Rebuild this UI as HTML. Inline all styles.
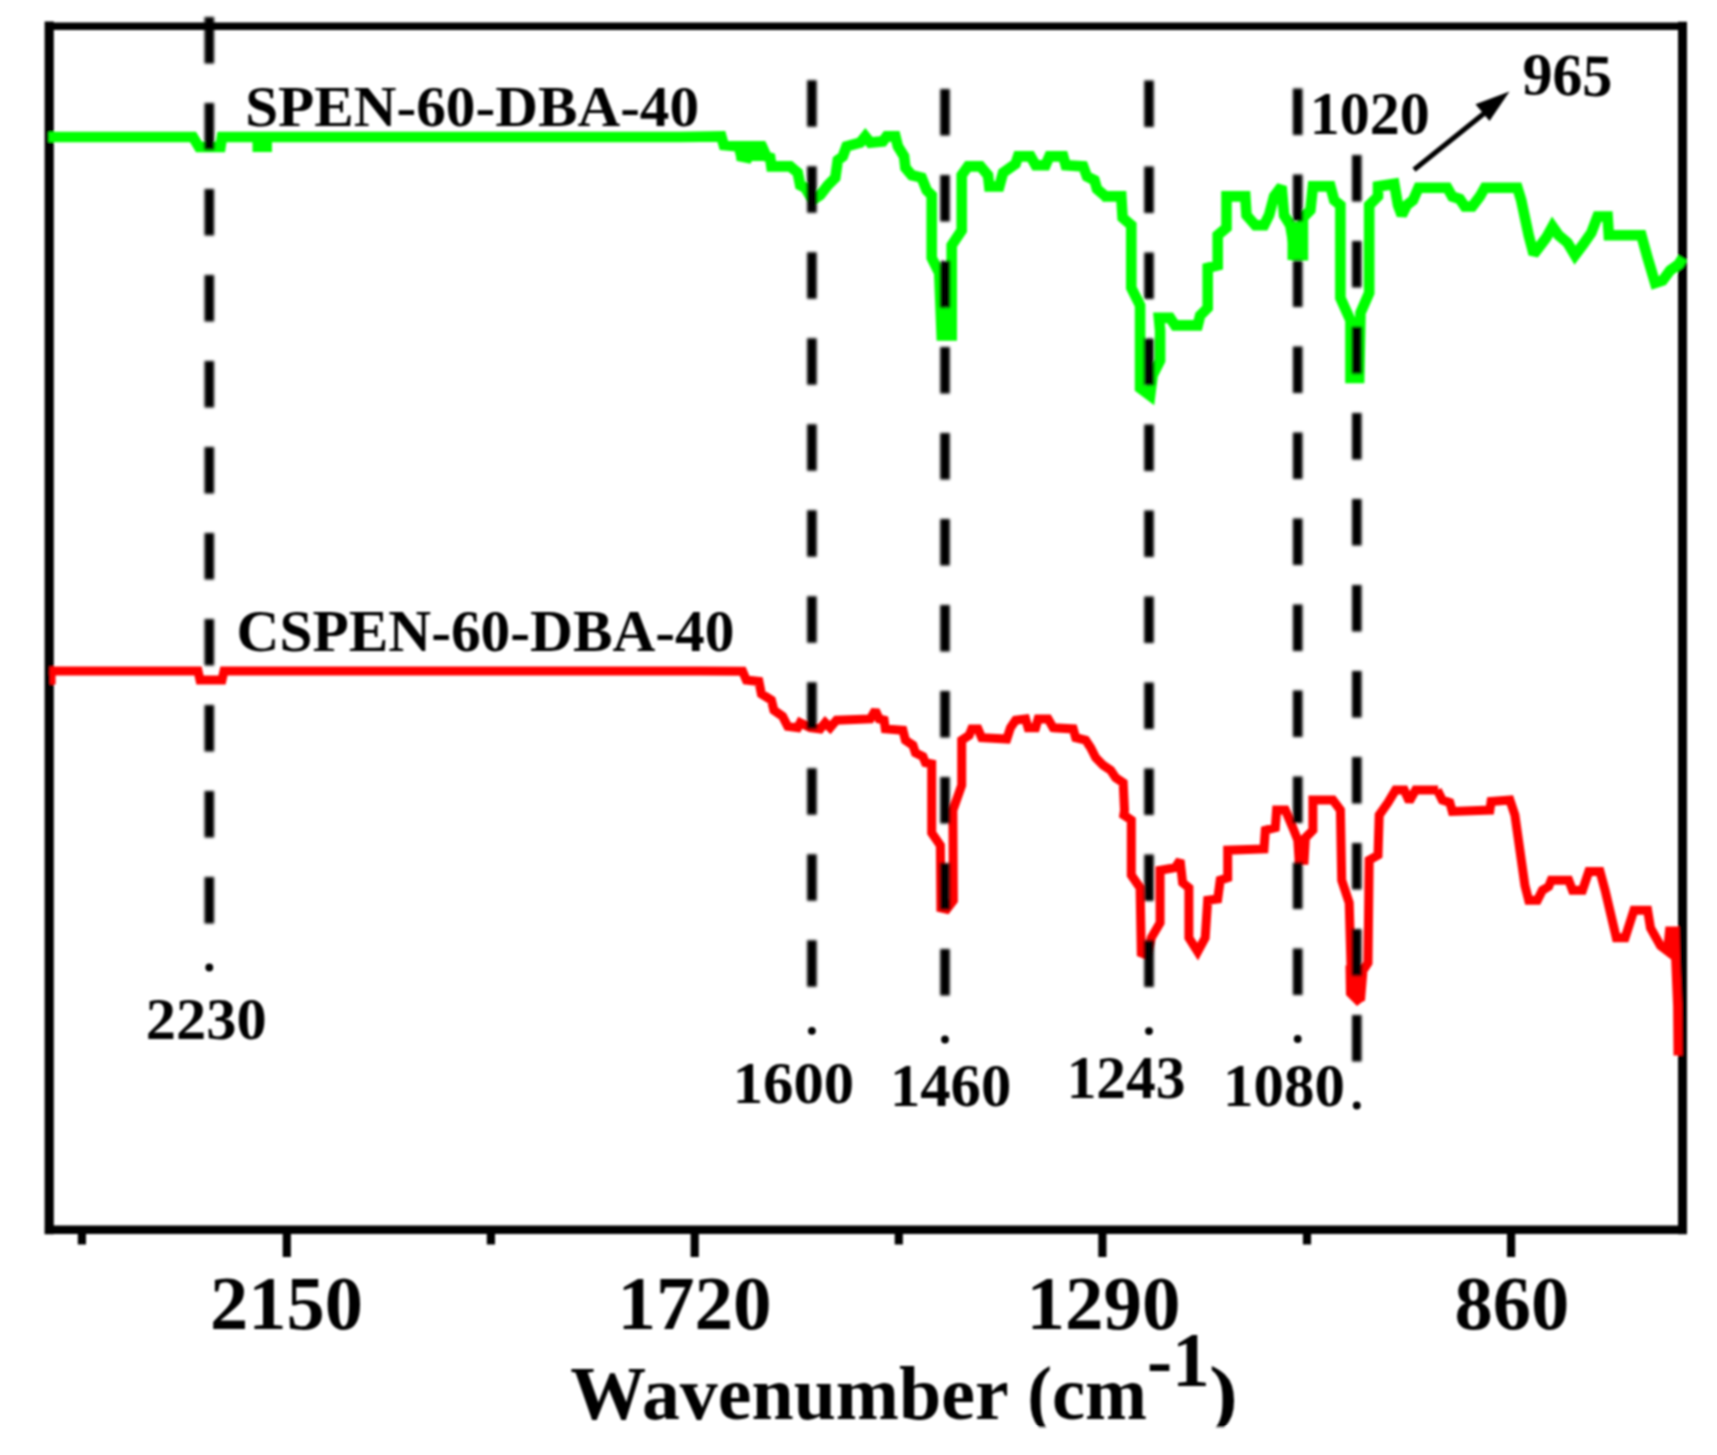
<!DOCTYPE html>
<html><head><meta charset="utf-8"><title>FTIR spectra</title>
<style>
html,body{margin:0;padding:0;background:#fff;}
body{width:1717px;height:1455px;overflow:hidden;}
svg{display:block;}
svg text{font-family:"Liberation Serif",serif;font-weight:bold;fill:#000;}
</style></head><body>
<svg width="1717" height="1455" viewBox="0 0 1717 1455">
<defs><filter id="soft" x="-2%" y="-2%" width="104%" height="104%"><feGaussianBlur stdDeviation="1.2"/></filter><filter id="soft2" x="-5%" y="-2%" width="110%" height="104%"><feGaussianBlur stdDeviation="0.9"/></filter></defs>
<rect width="1717" height="1455" fill="#fff"/>
<g filter="url(#soft)">
<g stroke="#000" stroke-linecap="square">
<line x1="49.2" y1="26.2" x2="49.2" y2="1229.7" stroke-width="9.2"/>
<line x1="1682.5" y1="26.2" x2="1682.5" y2="1229.7" stroke-width="9"/>
<line x1="49.2" y1="26.2" x2="1682.5" y2="26.2" stroke-width="7.6"/>
<line x1="49.2" y1="1229.7" x2="1682.5" y2="1229.7" stroke-width="8.5"/>
</g>
<path d="M48.5,137.0 L193.0,137.0 L199.0,147.0 L220.5,147.0 L222.0,137.0 L680.0,137.0 L721.3,136.4 L723.8,145.1 L738.9,146.4 L741.4,156.4 L747.6,157.7 L752.6,147.7 L762.6,147.7 L766.4,156.4 L770.2,157.7 L771.4,166.4 L790.2,166.4 L797.7,172.7 L800.2,185.2 L805.2,187.7 L812.7,200.2 L820.2,195.2 L827.8,185.2 L835.3,177.7 L837.8,160.2 L842.8,156.4 L846.5,146.4 L860.3,142.6 L865.3,136.4 L870.3,142.6 L882.9,141.4 L886.6,136.4 L895.4,136.4 L897.9,146.4 L904.1,156.4 L905.4,167.7 L911.7,175.2 L921.7,177.7 L926.7,190.2 L931.7,195.2 L931.7,257.8 L939.2,272.9 L941.7,335.5 L951.7,335.5 L951.7,245.3 L961.7,230.3 L961.7,175.2 L968.0,166.4 L980.5,166.4 L988.0,175.2 L989.3,186.5 L999.3,186.5 L1003.1,172.7 L1015.6,163.9 L1018.1,156.4 L1030.6,156.4 L1035.6,165.2 L1045.6,165.2 L1049.4,156.4 L1063.2,156.4 L1065.7,165.2 L1083.2,166.4 L1087.0,176.5 L1094.5,180.2 L1097.0,189.0 L1105.7,196.5 L1102.5,196.4 L1121.3,196.4 L1122.6,217.7 L1131.3,225.2 L1131.3,287.8 L1140.1,305.4 L1140.1,388.0 L1150.1,395.5 L1152.6,375.5 L1160.1,360.5 L1160.1,330.4 L1158.9,317.9 L1170.1,317.9 L1175.1,325.4 L1197.7,325.4 L1200.2,315.4 L1207.7,307.9 L1207.7,267.8 L1217.7,265.3 L1217.7,235.2 L1226.5,227.7 L1226.5,196.4 L1245.3,196.4 L1246.5,215.2 L1255.3,225.2 L1264.1,225.2 L1269.1,215.2 L1274.1,196.4 L1281.6,186.4 L1284.1,215.2 L1290.3,225.2 L1295.4,255.3 L1302.9,255.3 L1302.9,217.7 L1310.4,210.2 L1312.9,186.4 L1330.4,186.4 L1334.2,200.2 L1340.4,205.2 L1340.4,297.8 L1350.5,320.4 L1350.5,378.0 L1359.2,378.0 L1360.5,312.9 L1369.2,292.8 L1369.2,205.2 L1378.0,196.4 L1378.0,186.4 L1394.3,183.9 L1398.0,205.2 L1401.8,215.2 L1406.8,205.2 L1413.1,200.2 L1414.7,196.5 L1418.5,187.7 L1447.3,187.7 L1452.3,196.5 L1459.8,199.0 L1464.8,206.5 L1472.3,206.5 L1479.8,196.5 L1484.8,187.7 L1517.4,187.7 L1521.2,200.2 L1528.7,235.3 L1533.7,254.1 L1538.7,247.8 L1546.2,237.8 L1552.5,226.5 L1558.7,235.3 L1567.5,242.8 L1575.0,255.3 L1582.5,245.3 L1591.3,232.8 L1597.5,216.5 L1607.6,216.5 L1608.8,235.3 L1641.4,235.3 L1647.6,257.8 L1655.1,282.9 L1662.7,280.4 L1670.2,270.4 L1678.9,264.1 L1682.7,257.8" fill="none" stroke="#00ff00" stroke-width="10.6" stroke-linejoin="miter" stroke-miterlimit="2.2" stroke-linecap="butt"/>
<rect x="1287.5" y="222" width="20.5" height="38" fill="#00ff00"/>
<rect x="937" y="308" width="19.5" height="31" fill="#00ff00"/>
<rect x="736.5" y="141" width="29" height="20" fill="#00ff00"/>
<rect x="252.5" y="137" width="19.5" height="15" fill="#00ff00"/>
<path d="M49.5,671.0 L198.0,671.0 L200.0,680.0 L222.0,680.0 L224.0,671.0 L700.0,671.0 L742.6,671.3 L746.3,680.1 L758.9,681.4 L761.4,693.9 L771.4,700.1 L773.9,710.2 L782.6,716.4 L787.7,726.4 L797.7,727.7 L800.2,722.7 L810.2,727.7 L820.2,728.9 L825.2,722.7 L830.2,727.7 L836.5,720.2 L870.3,718.9 L875.3,710.2 L879.1,718.9 L884.1,720.2 L885.3,728.9 L902.9,730.2 L905.4,740.2 L912.9,745.2 L915.4,752.7 L922.9,756.5 L925.4,762.7 L931.7,764.0 L931.7,832.9 L940.4,845.4 L940.9,908.0 L946.7,909.3 L953.4,900.5 L952.9,810.3 L961.7,785.3 L961.7,740.2 L969.2,735.2 L971.7,728.9 L978.0,728.9 L981.7,737.7 L1006.8,739.0 L1010.5,727.7 L1015.6,720.2 L1025.6,718.9 L1028.1,727.7 L1035.6,727.7 L1038.1,718.9 L1048.1,718.9 L1053.1,727.7 L1073.2,728.9 L1075.7,737.7 L1085.7,740.2 L1090.7,747.7 L1095.7,757.7 L1103.2,765.3 L1110.7,770.3 L1115.7,777.8 L1123.2,782.8 L1124.5,810.3 L1123.8,815.1 L1131.3,820.1 L1131.3,875.2 L1140.1,887.8 L1141.3,952.9 L1147.6,955.4 L1151.3,937.8 L1160.1,922.8 L1160.1,870.2 L1175.1,867.7 L1180.1,860.2 L1182.6,882.7 L1188.9,887.8 L1188.9,937.8 L1197.7,951.6 L1205.2,937.8 L1207.7,900.3 L1217.7,899.0 L1220.2,880.2 L1227.7,877.7 L1227.7,850.2 L1264.0,848.9 L1265.3,830.2 L1275.3,827.7 L1276.6,810.1 L1285.3,810.1 L1292.8,827.7 L1297.8,840.2 L1299.1,860.2 L1304.1,860.2 L1305.4,837.7 L1312.9,830.2 L1312.9,800.1 L1332.9,800.1 L1340.4,810.1 L1341.7,880.2 L1349.2,902.8 L1351.7,990.4 L1360.5,1000.5 L1363.0,970.4 L1368.0,962.9 L1369.2,860.2 L1378.0,855.2 L1379.2,815.1 L1388.0,802.6 L1395.5,790.1 L1404.3,790.1 L1409.3,801.4 L1415.6,790.1 L1438.1,790.1 L1437.3,790.1 L1442.3,800.1 L1449.8,802.6 L1452.3,811.4 L1489.9,810.1 L1491.1,801.4 L1509.9,800.1 L1514.9,815.1 L1524.9,885.3 L1528.7,900.3 L1537.4,900.3 L1542.4,890.3 L1548.7,886.5 L1551.2,880.2 L1568.7,880.2 L1572.5,890.3 L1582.5,890.3 L1588.8,871.5 L1600.0,871.5 L1605.1,890.3 L1616.3,937.8 L1625.1,937.8 L1633.9,910.3 L1647.6,910.3 L1650.5,928.0 L1660.5,945.7 L1667.5,951.0 L1669.5,931.0 L1675.0,931.0 L1675.5,956.0 L1677.6,1006.0 L1678.0,1055.5" fill="none" stroke="#ff0000" stroke-width="9" stroke-linejoin="miter" stroke-miterlimit="2.2" stroke-linecap="butt"/>
<rect x="49.8" y="671" width="5.8" height="13.5" fill="#ff0000"/>
<polygon points="1345.5,965.4 1364.2,965.4 1364,1000.5 1357,1006 1346,995" fill="#ff0000"/>
<g filter="url(#soft2)" stroke="#000" stroke-width="9.6" stroke-dasharray="46.5 39.5" fill="none">
<line x1="209.3" y1="17" x2="209.3" y2="923.5"/>
<line x1="811.9" y1="80.3" x2="811.9" y2="986.8"/>
<line x1="945" y1="89" x2="945" y2="995.5"/>
<line x1="1149" y1="80.6" x2="1149" y2="987.1"/>
<line x1="1297.7" y1="88.5" x2="1297.7" y2="995.0"/>
<line x1="1356.8" y1="155" x2="1356.8" y2="1061.5"/>
</g>
<g fill="#000"><circle cx="209.3" cy="967.5" r="3.9"/>
<circle cx="811.9" cy="1030.8" r="3.9"/>
<circle cx="945" cy="1039.5" r="3.9"/>
<circle cx="1149" cy="1031.1" r="3.9"/>
<circle cx="1297.7" cy="1039.0" r="3.9"/>
<circle cx="1356.8" cy="1105.5" r="3.9"/>
</g>
<g stroke="#000" stroke-width="8.2">
<line x1="286.8" y1="1229.8" x2="286.8" y2="1257"/>
<line x1="694.7" y1="1229.8" x2="694.7" y2="1257"/>
<line x1="1102.4" y1="1229.8" x2="1102.4" y2="1257"/>
<line x1="1511.1" y1="1229.8" x2="1511.1" y2="1257"/>
<line x1="81.9" y1="1229.8" x2="81.9" y2="1244.5"/>
<line x1="490.9" y1="1229.8" x2="490.9" y2="1244.5"/>
<line x1="898.8" y1="1229.8" x2="898.8" y2="1244.5"/>
<line x1="1307" y1="1229.8" x2="1307" y2="1244.5"/>
</g>
<line x1="1414" y1="169.8" x2="1484" y2="113.5" stroke="#000" stroke-width="5"/>
<polygon points="1509.5,91.4 1475.5,104.3 1489.5,121" fill="#000"/>
<text x="245.16" y="126.0" font-size="57.91" textLength="453.93" lengthAdjust="spacingAndGlyphs">SPEN-60-DBA-40</text>
<text x="236.64" y="651.4" font-size="58.32" textLength="497.85" lengthAdjust="spacingAndGlyphs">CSPEN-60-DBA-40</text>
<text x="145.76" y="1039.33" font-size="59.83" textLength="120.86" lengthAdjust="spacingAndGlyphs">2230</text>
<text x="732.72" y="1103.0" font-size="60.13" textLength="121.48" lengthAdjust="spacingAndGlyphs">1600</text>
<text x="889.92" y="1106.33" font-size="60.64" textLength="121.41" lengthAdjust="spacingAndGlyphs">1460</text>
<text x="1066.65" y="1098.0" font-size="60.83" textLength="118.88" lengthAdjust="spacingAndGlyphs">1243</text>
<text x="1223.03" y="1105.73" font-size="61.55" textLength="121.84" lengthAdjust="spacingAndGlyphs">1080</text>
<text x="1309.79" y="134.33" font-size="61.95" textLength="120.01" lengthAdjust="spacingAndGlyphs">1020</text>
<text x="1522.32" y="95.2" font-size="59.82" textLength="90.16" lengthAdjust="spacingAndGlyphs" transform="rotate(1.3 1567 76)">965</text>
<text x="210.0" y="1329.47" font-size="76.3" textLength="152.85" lengthAdjust="spacingAndGlyphs">2150</text>
<text x="617.43" y="1329.47" font-size="76.3" textLength="154.22" lengthAdjust="spacingAndGlyphs">1720</text>
<text x="1026.52" y="1329.47" font-size="76.3" textLength="153.93" lengthAdjust="spacingAndGlyphs">1290</text>
<text x="1454.47" y="1329.47" font-size="76.3" textLength="114.94" lengthAdjust="spacingAndGlyphs">860</text>
<text><tspan x="570.19" y="1418.6" font-size="75.5" textLength="438.48" lengthAdjust="spacingAndGlyphs">Wavenumber</tspan> <tspan x="1027.2" y="1418.6" font-size="75.5" textLength="119.78" lengthAdjust="spacingAndGlyphs">(cm</tspan><tspan x="1146.92" y="1386.2" font-size="77.27" textLength="62.98" lengthAdjust="spacingAndGlyphs">-1</tspan><tspan x="1209.13" y="1418.6" font-size="75.5" textLength="28.86" lengthAdjust="spacingAndGlyphs">)</tspan></text>
<rect x="0" y="1427.5" width="1717" height="40" fill="#fff"/>
</g>
</svg>
</body></html>
